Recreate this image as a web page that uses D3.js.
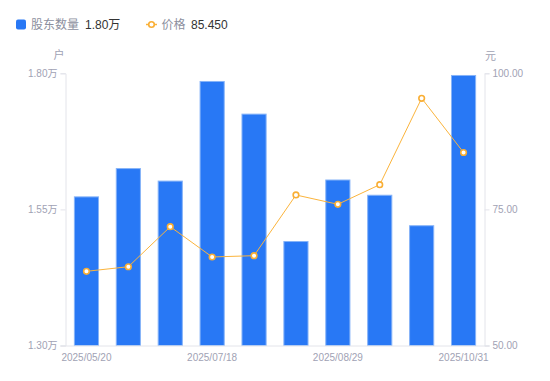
<!DOCTYPE html>
<html><head><meta charset="utf-8">
<script src="https://cdn.jsdelivr.net/npm/d3@7"></script>
<style>
html,body{margin:0;padding:0;background:#fff;}
svg{display:block;font-family:"Liberation Sans","Noto Sans CJK SC",sans-serif;}
</style></head>
<body><svg id="c" width="550" height="381"></svg>
<script>
const dates = ["2025/05/20","2025/05/30","2025/06/30","2025/07/18","2025/07/31","2025/08/20","2025/08/29","2025/09/19","2025/09/30","2025/10/31"];
const holders = [15730,16250,16020,17850,17250,14910,16040,15760,15200,17960];
const prices = [63.63,64.47,71.82,66.26,66.50,77.65,75.94,79.54,95.41,85.45];
const xLabels = ["2025/05/20","2025/07/18","2025/08/29","2025/10/31"];
const leftTicks = [13000,15500,18000];
const rightTicks = [50,75,100];

const svg = d3.select("#c");
const m = {l:65.5, r:484.5, t:73.3, b:345.5};
const x = d3.scaleBand().domain(dates).range([m.l, m.r]).paddingInner(0.4).paddingOuter(0.2);
const yL = d3.scaleLinear().domain([13000,18000]).range([m.b, m.t]);
const yR = d3.scaleLinear().domain([50,100]).range([m.b, m.t]);
const axisColor = "#e3e4ea", labelColor = "#9fa2b4";
const fmtW = v => (v/10000).toFixed(2) + "万";

// bars
svg.append("g").selectAll("rect").data(holders).join("rect")
  .attr("x", (d,i)=>x(dates[i])+0.5).attr("width", x.bandwidth()-1)
  .attr("y", d=>yL(d)).attr("height", d=>m.b - yL(d))
  .attr("fill","#2878f5").attr("stroke","#86b3f8").attr("stroke-width",1);

// left axis
const gL = svg.append("g").attr("transform",`translate(${m.l},0)`)
  .call(d3.axisLeft(yL).tickValues(leftTicks).tickFormat(fmtW).tickSize(5).tickPadding(3));
// right axis
const gR = svg.append("g").attr("transform",`translate(${m.r},0)`)
  .call(d3.axisRight(yR).tickValues(rightTicks).tickFormat(d=>d.toFixed(2)).tickSize(5).tickPadding(3));
// bottom axis
const gB = svg.append("g").attr("transform",`translate(0,${m.b})`)
  .call(d3.axisBottom(x).tickValues(xLabels).tickSize(0).tickPadding(6));
gB.select(".domain").attr("d",`M${m.l-5},0.5H${m.r+5}`);
[gL,gR,gB].forEach(g=>{
  g.select(".domain").attr("stroke",axisColor);
  g.selectAll(".tick line").attr("stroke",axisColor);
  g.selectAll("text").attr("fill",labelColor).attr("font-size",10)
   .attr("font-family",'"Liberation Sans","Noto Sans CJK SC",sans-serif');
});
gB.selectAll("text").attr("dy","0.95em");

// units
svg.append("text").attr("x",59).attr("y",59).attr("text-anchor","middle")
  .attr("font-size",11).attr("fill",labelColor).text("户");
svg.append("text").attr("x",490.5).attr("y",60).attr("text-anchor","middle")
  .attr("font-size",11).attr("fill",labelColor).text("元");

// line
const cx = i => x(dates[i]) + x.bandwidth()/2;
const line = d3.line().x((d,i)=>cx(i)).y(d=>yR(d));
svg.append("path").datum(prices).attr("d",line).attr("fill","none")
  .attr("stroke","#fbb43c").attr("stroke-width",1);
svg.append("g").selectAll("circle").data(prices).join("circle")
  .attr("cx",(d,i)=>cx(i)).attr("cy",d=>yR(d)).attr("r",2.8)
  .attr("fill","#fff").attr("stroke","#f9ae34").attr("stroke-width",1.6);

// legend
const lg = svg.append("g");
lg.append("rect").attr("x",16).attr("y",19.5).attr("width",10).attr("height",10).attr("rx",2)
  .attr("fill","#2878f5");
lg.append("text").attr("x",31).attr("y",29).attr("font-size",12).attr("fill","#8c8f9e").text("股东数量");
lg.append("text").attr("x",85).attr("y",29).attr("font-size",12).attr("fill","#333").text(fmtW(holders[holders.length-1]));
lg.append("line").attr("x1",146).attr("x2",157).attr("y1",24.5).attr("y2",24.5)
  .attr("stroke","#fbb43c").attr("stroke-width",1.5);
lg.append("circle").attr("cx",151.5).attr("cy",24.5).attr("r",2.8)
  .attr("fill","#fff").attr("stroke","#f9ae34").attr("stroke-width",1.6);
lg.append("text").attr("x",161.5).attr("y",29).attr("font-size",12).attr("fill","#8c8f9e").text("价格");
lg.append("text").attr("x",191).attr("y",29).attr("font-size",12).attr("fill","#333").text(prices[prices.length-1].toFixed(3));
</script></body></html>
